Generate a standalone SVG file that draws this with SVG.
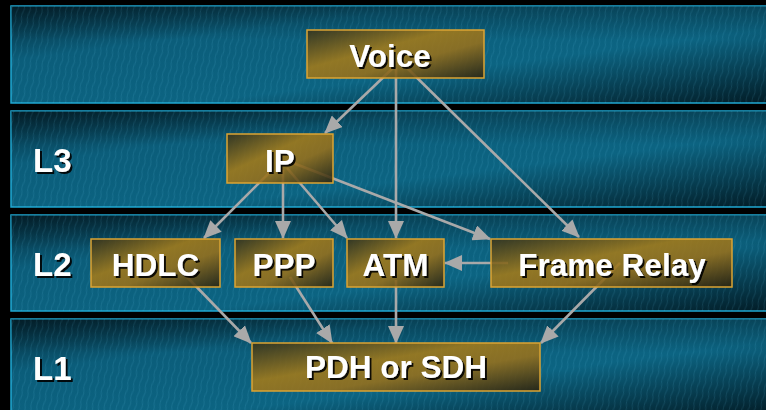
<svg xmlns="http://www.w3.org/2000/svg" width="766" height="410" viewBox="0 0 766 410">
  <defs>
    <linearGradient id="bandFill" x1="0" y1="0" x2="1" y2="1">
      <stop offset="0" stop-color="#042836"/>
      <stop offset="0.28" stop-color="#0b5d7a"/>
      <stop offset="0.62" stop-color="#0c6482"/>
      <stop offset="1" stop-color="#021c26"/>
    </linearGradient>
    <linearGradient id="bandShade" x1="0" y1="0" x2="0" y2="1">
      <stop offset="0" stop-color="#000" stop-opacity="0.3"/>
      <stop offset="0.35" stop-color="#000" stop-opacity="0"/>
      <stop offset="1" stop-color="#000" stop-opacity="0"/>
    </linearGradient>
    <pattern id="weave" width="6" height="14" patternUnits="userSpaceOnUse" patternTransform="rotate(12)">
      <path d="M1,0 Q2.5,3.5 1,7 Q-0.5,10.5 1,14" fill="none" stroke="#66cdee" stroke-width="0.9" stroke-opacity="0.15"/>
    </pattern>
    <linearGradient id="boxFill" x1="0" y1="0" x2="1" y2="1">
      <stop offset="0" stop-color="#36321a"/>
      <stop offset="0.4" stop-color="#a47a18"/>
      <stop offset="0.62" stop-color="#98701a"/>
      <stop offset="1" stop-color="#282210"/>
    </linearGradient>
    <filter id="shadow" x="-10%" y="-20%" width="130%" height="160%">
      <feDropShadow dx="2" dy="2" stdDeviation="0.6" flood-color="#000" flood-opacity="0.9"/>
    </filter>
    <marker id="arrow" viewBox="0 0 18 16" markerWidth="18" markerHeight="16" refX="17" refY="8" orient="auto" markerUnits="userSpaceOnUse">
      <path d="M0,0 L18,8 L0,16 z" fill="#a9a9a9"/>
    </marker>
  </defs>
  <style>
    .band { fill: url(#bandFill); stroke: #1fa8d2; stroke-width: 1.5; }
    .shade { fill: url(#bandShade); }
    .tex { fill: url(#weave); }
    .box { fill: url(#boxFill); fill-opacity: 0.88; stroke: #dba433; stroke-width: 1.5; }
    .lbl { font-family: "Liberation Sans", Arial, sans-serif; font-weight: bold; font-size: 31.5px; fill: #ffffff; text-anchor: middle; filter: url(#shadow); }
    .layer { font-family: "Liberation Sans", Arial, sans-serif; font-weight: bold; font-size: 33px; fill: #ffffff; filter: url(#shadow); }
    .conn { stroke: #a9a9a9; stroke-width: 2.6; fill: none; }
    .conn.head { marker-end: url(#arrow); }
  </style>

  <rect width="766" height="410" fill="#000"/>

  <!-- layer bands -->
  <g id="bands">
    <rect class="band" x="11" y="6" width="760" height="97"/>
    <rect class="shade" x="11" y="6" width="760" height="97"/>
    <rect class="tex" x="11" y="6" width="760" height="97"/>
    <rect class="band" x="11" y="111" width="760" height="96"/>
    <rect class="shade" x="11" y="111" width="760" height="96"/>
    <rect class="tex" x="11" y="111" width="760" height="96"/>
    <rect class="band" x="11" y="215" width="760" height="96"/>
    <rect class="shade" x="11" y="215" width="760" height="96"/>
    <rect class="tex" x="11" y="215" width="760" height="96"/>
    <rect class="band" x="11" y="319" width="760" height="96"/>
    <rect class="shade" x="11" y="319" width="760" height="96"/>
    <rect class="tex" x="11" y="319" width="760" height="96"/>
  </g>

  <g id="layer-labels">
    <text class="layer" x="33" y="172">L3</text>
    <text class="layer" x="33" y="276">L2</text>
    <text class="layer" x="33" y="380">L1</text>
  </g>

  <!-- connectors -->
  <g id="connectors">
    <line class="conn head" x1="393" y1="68" x2="325" y2="133"/>
    <line class="conn head" x1="396" y1="68" x2="396" y2="238"/>
    <line class="conn head" x1="405" y1="66" x2="579" y2="237"/>
    <line class="conn head" x1="272" y1="170" x2="204" y2="238"/>
    <line class="conn head" x1="283" y1="170" x2="283" y2="238"/>
    <line class="conn head" x1="287" y1="168" x2="347" y2="238"/>
    <line class="conn head" x1="293" y1="163" x2="490" y2="239"/>
    <line class="conn head" x1="508" y1="263" x2="445" y2="263"/>
    <line class="conn head" x1="187" y1="277" x2="251" y2="343"/>
    <line class="conn head" x1="290" y1="277" x2="332" y2="343"/>
    <line class="conn head" x1="396" y1="280" x2="396" y2="343"/>
    <line class="conn head" x1="620" y1="263" x2="541" y2="343"/>
  </g>

  <g id="node-voice">
    <rect class="box" x="307" y="30" width="177" height="48"/>
    <text class="lbl" x="390" y="67">Voice</text>
  </g>
  <g id="node-ip">
    <rect class="box" x="227" y="134" width="106" height="49"/>
    <text class="lbl" x="280" y="172">IP</text>
  </g>
  <g id="node-hdlc">
    <rect class="box" x="91" y="239" width="129" height="48"/>
    <text class="lbl" x="155.5" y="276">HDLC</text>
  </g>
  <g id="node-ppp">
    <rect class="box" x="235" y="239" width="98" height="48"/>
    <text class="lbl" x="284" y="276">PPP</text>
  </g>
  <g id="node-atm">
    <rect class="box" x="347" y="239" width="97" height="48"/>
    <text class="lbl" x="395.5" y="276">ATM</text>
  </g>
  <g id="node-frame-relay">
    <rect class="box" x="491" y="239" width="241" height="48"/>
    <text class="lbl" x="612" y="276">Frame Relay</text>
  </g>
  <g id="node-pdh-sdh">
    <rect class="box" x="252" y="343" width="288" height="48"/>
    <text class="lbl" x="396" y="378">PDH or SDH</text>
  </g>
</svg>
